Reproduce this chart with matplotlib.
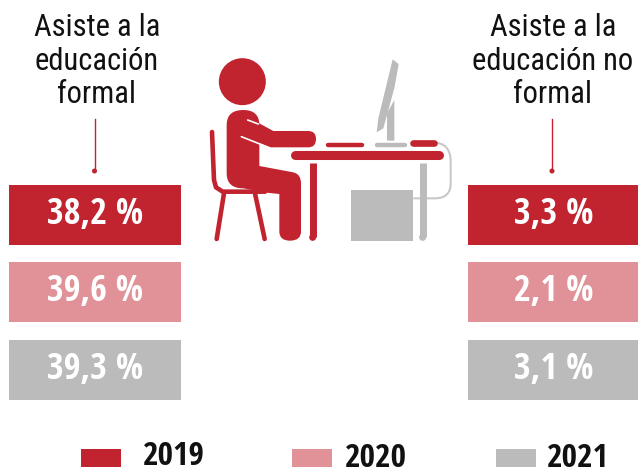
import matplotlib
matplotlib.use("Agg")
import matplotlib.pyplot as plt
from matplotlib.patches import Rectangle, Circle, PathPatch
from matplotlib.path import Path

plt.rcParams['font.family'] = ['Open Sans Condensed', 'Roboto Condensed', 'DejaVu Sans']
HEAD_FONT = ['Roboto Condensed', 'Open Sans', 'DejaVu Sans']

# --- data ---
years = ["2019", "2020", "2021"]
colors = ["#C1232F", "#E09298", "#BBBBBB"]
formal = ["38,2 %", "39,6 %", "39,3 %"]
no_formal = ["3,3 %", "2,1 %", "3,1 %"]

RED = colors[0]
GRAY = colors[2]

fig = plt.figure(figsize=(6.38, 4.73), dpi=100)
ax = fig.add_axes([0, 0, 1, 1])
ax.set_xlim(0, 638)
ax.set_ylim(473, 0)
ax.axis('off')

# --- bars ---
bar_tops = [185, 262, 340]
for top, col, a, b in zip(bar_tops, colors, formal, no_formal):
    ax.add_patch(Rectangle((9, top), 172, 60, fc=col, ec='none'))
    ax.add_patch(Rectangle((468, top), 170, 60, fc=col, ec='none'))
    ax.text(95.5, top + 30, a, color='white', fontsize=26, fontweight='bold', ha='center', va='center')
    ax.text(554, top + 30, b, color='white', fontsize=26, fontweight='bold', ha='center', va='center')

# --- headers ---
ax.text(97, 61, "Asiste a la\neducación\nformal", family=HEAD_FONT, fontsize=22,
        ha='center', va='center', linespacing=1.2, color='#111111')
ax.text(553, 61, "Asiste a la\neducación no\nformal", family=HEAD_FONT, fontsize=22,
        ha='center', va='center', linespacing=1.2, color='#111111')
for x in [94.5, 552]:
    ax.plot([x, x], [119, 171], color=RED, lw=1)
    ax.add_patch(Circle((x, 171), 2.5, fc=RED, ec='none'))

# --- legend ---
leg_x = [81, 292, 496]
leg_text_x = [143, 345, 547]
leg_text_y = [456, 458, 458]
for x, tx, ty, col, yr in zip(leg_x, leg_text_x, leg_text_y, colors, years):
    ax.add_patch(Rectangle((x, 449), 40, 18, fc=col, ec='none'))
    ax.text(tx, ty, yr, fontsize=24, fontweight='bold', ha='left', va='center', color='#111111')


# --- icon, points ---
def z(x, y):
    return (200 + x / 3, 50 + y / 3)


def stroke(pts, col, lw, cap='round'):
    xs, ys = zip(*[z(*p) for p in pts])
    ax.plot(xs, ys, color=col, lw=lw, solid_capstyle=cap, solid_joinstyle='round')


def fill(pts, col, codes=None):
    verts = [z(*p) for p in pts]
    if codes is None:
        codes = [Path.MOVETO] + [Path.LINETO] * (len(pts) - 1)
    ax.add_patch(PathPatch(Path(verts, codes), fc=col, ec='none'))


L, C = Path.LINETO, Path.CURVE3
ax.add_patch(Circle(z(127, 95), 23.5, fc=RED, ec='none'))

# torso and leg
fill([(80, 225), (80, 180), (130, 180), (178, 180), (178, 225), (178, 348), (280, 367), (303, 372), (303, 400),
      (303, 545), (303, 572), (270, 572), (238, 572), (238, 545), (238, 432), (200, 428), (130, 415), (80, 415),
      (80, 370), (80, 225)],
     RED, [Path.MOVETO, C, C, C, C, L, L, C, C, L, C, C, C, C, L, L, L, C, C, L])
# arm
fill([(150, 205), (220, 243), (325, 243), (348, 243), (348, 267), (348, 292), (325, 292), (210, 292), (125, 258)],
     RED, [Path.MOVETO, L, L, C, C, C, C, L, L])
stroke([(143, 210), (175, 222)], 'white', 1.2)
stroke([(124, 260), (210, 294)], 'white', 1.2)

# chair
stroke([(36, 246), (42, 390), (48, 412), (68, 425), (195, 425)], RED, 3.3)
stroke([(72, 430), (50, 567)], RED, 3.3)
stroke([(165, 430), (194, 567)], RED, 3.3)

# cable
cable = [(700, 278), (752, 278), (752, 335), (752, 400), (752, 445), (705, 445), (640, 445)]
xs = [z(*p) for p in cable]
ax.add_patch(PathPatch(Path(xs, [Path.MOVETO, C, C, L, C, C, L]), fc='none', ec='#C8C8C8', lw=1.5))

# desk
stroke([(285, 314), (716, 314)], RED, 6.5)
stroke([(338, 338), (338, 562)], RED, 5, cap='butt')
ax.add_patch(Circle(z(338, 562), 3.5, fc=RED, ec='none'))
stroke([(668, 338), (668, 562)], GRAY, 5, cap='butt')
ax.add_patch(Circle(z(668, 562), 3.5, fc=GRAY, ec='none'))

# tower
fill([(454, 421), (640, 421), (640, 572), (454, 572)], GRAY)

# keyboard, base, mouse box
stroke([(383, 284), (485, 284)], RED, 3.2)
stroke([(530, 285), (614, 285)], GRAY, 3.2)
stroke([(640, 280), (702, 280)], RED, 4.8)

# monitor
fill([(561, 190), (583, 150), (583, 272), (561, 272)], GRAY)
fill([(578, 28), (596, 42), (584, 110), (568, 170), (550, 235), (530, 247), (535, 205)], GRAY)

fig.savefig("out.png", dpi=100)
